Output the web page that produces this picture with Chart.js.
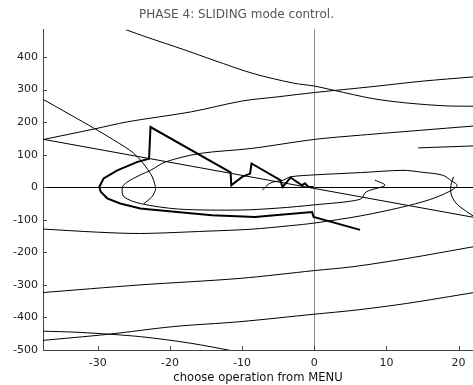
<!DOCTYPE html>
<html>
<head>
<meta charset="utf-8">
<script src="https://cdn.jsdelivr.net/npm/chart.js@4.4.0/dist/chart.umd.min.js"></script>
<style>
  html, body { margin: 0; padding: 0; background: #fff; }
  #wrap { width: 473px; height: 385px; }
</style>
</head>
<body>
<div id="wrap"><canvas id="phase"></canvas></div>
<script>
// -- phase plane trajectories, [x, y]
var xTicks = [-30, -20, -10, 0, 10, 20];
var yTicks = [-500, -400, -300, -200, -100, 0, 100, 200, 300, 400];

var topCurve = [[-26.1,484],[-23.2,461],[-18.1,423],[-13.9,390],[-8.4,349],[-2.9,320],[0,311],[2.7,298],[8.2,272],[12.8,259],[18.3,250],[22,249]];
var riseCurve = [[-37.5,147],[-30.5,179],[-25.9,201],[-17,232],[-10,265],[-5,278],[0,291],[8,309],[15,326],[22,339]];
var downLine = [[-37.5,147],[22,-92]];
var leftArc = [[-37.5,269],[-30.5,181],[-27.8,145],[-25,104],[-22.7,42],[-22,-4],[-22.5,-29],[-23.6,-50]];
var innerSpiral = [[22,188],[14.7,175],[6.4,160],[0,147],[-8.8,119],[-15.8,104],[-20.6,78],[-22.7,52],[-24.1,38],[-26,15],[-26.6,0],[-26.4,-29],[-24.1,-50],[-18.8,-67],[-10.3,-70],[-5,-64],[0,-54],[6.4,-37],[7.2,-14],[9.8,6],[8.4,22]];
var bigLoop = [[-37.9,-128],[-30,-138],[-24.1,-142],[-15,-135],[-8.8,-129],[-3.3,-118],[0,-110],[6.4,-88],[12,-62],[16,-38],[18.8,-12],[19.8,6],[19,20],[17.8,37],[15,46],[12.3,52],[6.4,45],[0,38],[-3.3,32],[-4.3,22],[-6.1,13],[-7.2,-9]];
var shortLine = [[14.4,121],[22,127]];
var rightCurve = [[22,-88],[20.2,-60],[19.5,-45],[19,-24],[18.9,-4],[19,12],[19.3,32]];
var low1 = [[-37.9,-324],[-24.1,-300],[-10.3,-280],[0,-256],[5.4,-244],[12.8,-219],[22,-183]];
var low2 = [[-37.9,-471],[-28.7,-452],[-19.5,-428],[-10.3,-413],[0,-390],[5.9,-377],[12.8,-357],[22,-324]];
var low3 = [[-37.9,-442],[-32.4,-446],[-24.1,-459],[-17.2,-479],[-11.2,-503]];

// the sliding mode trajectory (bold)
var sliding = [[-0.1,1],[-0.8,1],[-1.3,12],[-1.7,6],[-3.3,30],[-3.75,17],[-4.4,1],[-4.7,22],[-8.7,73],[-8.9,42],[-10,32],[-11.5,6],[-11.6,46],[-22.7,185],[-22.9,88],[-24.5,78],[-27.3,52],[-29.2,27],[-29.8,1],[-29.6,-14],[-28.7,-34],[-26.9,-50],[-24.1,-65],[-22.7,-68],[-14.2,-86],[-8.2,-91],[-4.3,-84],[-0.3,-76],[-0.1,-91],[6.35,-131]];

function toPts(arr) {
  return arr.map(function (p) { return {x: p[0], y: p[1]}; });
}

function thin(arr, tension) {
  return {
    data: toPts(arr),
    showLine: true,
    pointRadius: 0,
    borderColor: '#000',
    borderWidth: 1,
    tension: tension
  };
}

var axesDecor = {
  id: 'axesDecor',
  beforeDatasetsDraw: function (chart) {
    var ctx = chart.ctx, a = chart.chartArea;
    var x = chart.scales.x, y = chart.scales.y;
    ctx.save();
    ctx.lineWidth = 1;
    var y0 = Math.round(y.getPixelForValue(0)) + 0.5;
    ctx.strokeStyle = '#000';
    ctx.beginPath(); ctx.moveTo(a.left, y0); ctx.lineTo(a.right, y0); ctx.stroke();
    var x0 = Math.round(x.getPixelForValue(0)) + 0.5;
    ctx.strokeStyle = '#888';
    ctx.beginPath(); ctx.moveTo(x0, a.top); ctx.lineTo(x0, a.bottom); ctx.stroke();
    ctx.restore();
  },
  afterDraw: function (chart) {
    var ctx = chart.ctx, a = chart.chartArea;
    var x = chart.scales.x, y = chart.scales.y;
    ctx.save();
    ctx.strokeStyle = '#444';
    ctx.lineWidth = 1;
    ctx.beginPath();
    xTicks.forEach(function (v) {
      var px = Math.round(x.getPixelForValue(v)) + 0.5;
      ctx.moveTo(px, a.bottom); ctx.lineTo(px, a.bottom - 4);
    });
    yTicks.forEach(function (v) {
      var py = Math.round(y.getPixelForValue(v)) + 0.5;
      ctx.moveTo(a.left, py); ctx.lineTo(a.left + 4, py);
    });
    ctx.stroke();
    ctx.restore();
  }
};

var ctx = document.getElementById('phase');

var phaseChart = new Chart(ctx, {
  type: 'scatter',
  data: {
    datasets: [
      thin(topCurve, 0.3),
      thin(riseCurve, 0.3),
      thin(downLine, 0),
      thin(leftArc, 0.3),
      thin(innerSpiral, 0.3),
      thin(bigLoop, 0.3),
      thin(shortLine, 0),
      thin(rightCurve, 0.3),
      thin(low1, 0.3),
      thin(low2, 0.3),
      thin(low3, 0.3),
      {
        data: toPts(sliding),
        showLine: true,
        pointRadius: 0,
        borderColor: '#000',
        borderWidth: 2,
        tension: 0
      }
    ]
  },
  options: {
    responsive: true,
    maintainAspectRatio: false,
    animation: false,
    devicePixelRatio: 1,
    events: [],
    layout: { padding: 0 },
    plugins: {
      legend: { display: false },
      tooltip: { enabled: false },
      title: {
        display: true,
        text: 'PHASE 4: SLIDING mode control.',
        color: '#555',
        font: { family: 'DejaVu Sans', size: 12, weight: 'normal' },
        padding: { top: 8, bottom: 7 }
      }
    },
    scales: {
      x: {
        type: 'linear',
        min: -37.6,
        max: 22,
        afterFit: function (s) { s.height = 35; },
        grid: { display: false, drawTicks: false },
        border: { display: true, color: '#444', width: 1 },
        ticks: {
          stepSize: 10,
          includeBounds: false,
          padding: 7,
          color: '#222',
          font: { family: 'DejaVu Sans', size: 11 }
        },
        title: {
          display: true,
          text: 'choose operation from MENU',
          color: '#111',
          font: { family: 'DejaVu Sans', size: 11.6 },
          padding: { top: 0, bottom: 0 }
        }
      },
      y: {
        type: 'linear',
        min: -500,
        max: 485,
        afterFit: function (s) { s.width = 43; },
        grid: { display: false, drawTicks: false },
        border: { display: true, color: '#444', width: 1 },
        ticks: {
          stepSize: 100,
          includeBounds: false,
          padding: 5,
          color: '#222',
          font: { family: 'DejaVu Sans', size: 11 }
        }
      }
    }
  },
  plugins: [axesDecor]
});
</script>
</body>
</html>
